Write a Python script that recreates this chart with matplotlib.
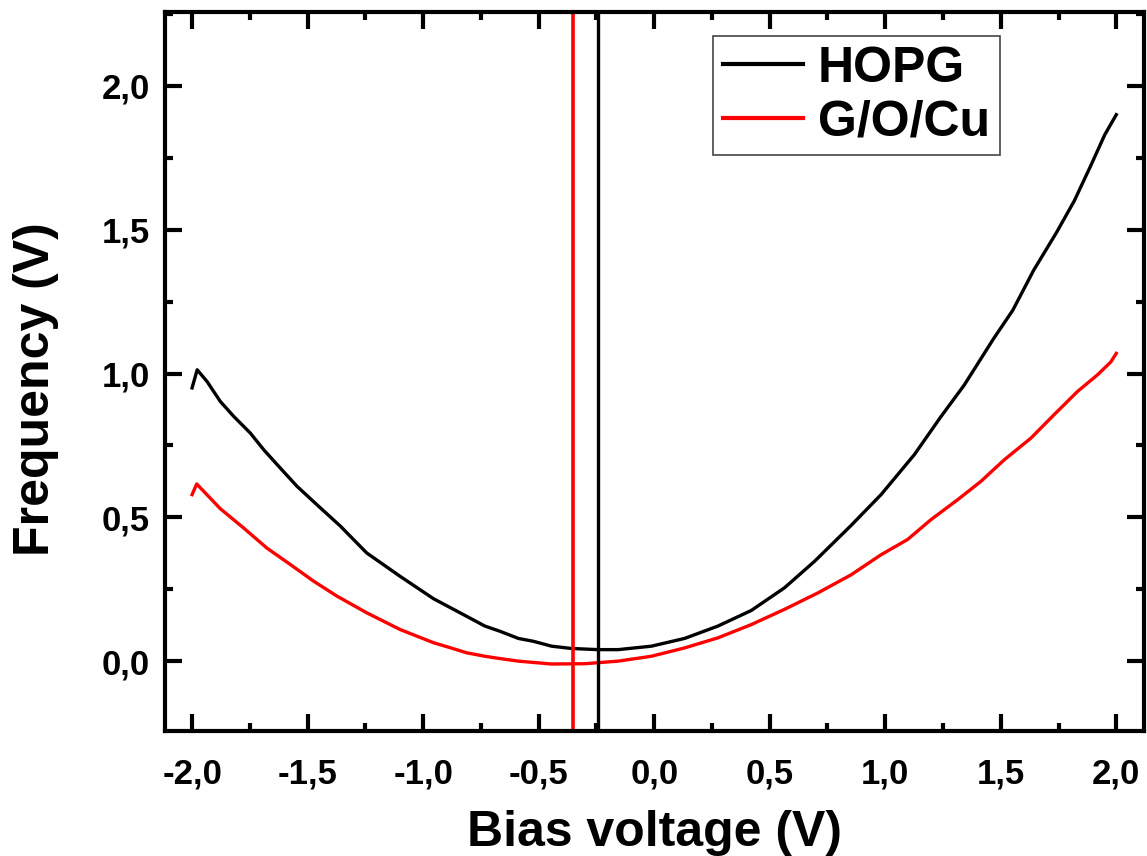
import matplotlib.pyplot as plt
from matplotlib.ticker import MultipleLocator, FuncFormatter

plt.rcParams['font.family'] = ['Liberation Sans', 'DejaVu Sans']
plt.rcParams['font.weight'] = 'bold'

# HOPG curve
hopg_x = [-2.0, -1.978, -1.935, -1.878, -1.82, -1.748, -1.69, -1.618, -1.546, -1.46,
          -1.359, -1.244, -1.10, -0.955, -0.812, -0.733, -0.668, -0.588, -0.523, -0.444,
          -0.358, -0.243, -0.156, -0.012, 0.132, 0.276, 0.42, 0.564, 0.694, 0.85,
          0.982, 1.126, 1.241, 1.342, 1.468, 1.552, 1.643, 1.741, 1.818, 1.888, 1.95, 2.0]
hopg_y = [0.95, 1.013, 0.972, 0.903, 0.851, 0.793, 0.735, 0.671, 0.608, 0.544,
          0.47, 0.376, 0.295, 0.217, 0.156, 0.122, 0.104, 0.079, 0.069, 0.052,
          0.044, 0.04, 0.04, 0.052, 0.079, 0.122, 0.176, 0.255, 0.347, 0.47,
          0.579, 0.718, 0.85, 0.96, 1.12, 1.22, 1.36, 1.49, 1.60, 1.72, 1.83, 1.90]

# G/O/Cu curve
goc_x = [-2.0, -1.98, -1.878, -1.777, -1.676, -1.575, -1.474, -1.373, -1.244, -1.10,
         -0.955, -0.876, -0.812, -0.733, -0.668, -0.588, -0.444, -0.30, -0.156, -0.012,
         0.132, 0.276, 0.42, 0.564, 0.708, 0.852, 0.982, 1.097, 1.198, 1.313,
         1.414, 1.515, 1.63, 1.731, 1.832, 1.918, 1.976, 2.0]
goc_y = [0.579, 0.616, 0.53, 0.463, 0.393, 0.336, 0.278, 0.226, 0.168, 0.11,
         0.064, 0.045, 0.029, 0.017, 0.009, 0.0, -0.01, -0.009, 0.0, 0.017,
         0.046, 0.081, 0.127, 0.18, 0.237, 0.30, 0.37, 0.423, 0.492, 0.561,
         0.625, 0.70, 0.775, 0.857, 0.9375, 0.995, 1.04, 1.07]

# minimum positions (vertical markers)
hopg_min = -0.243
goc_min = -0.35

fig = plt.figure(figsize=(11.47, 8.56), dpi=100)
ax = fig.add_axes([0.1439, 0.146, 0.8535, 0.840])

ax.plot(hopg_x, hopg_y, color='black', lw=2.4, label='HOPG')
ax.plot(goc_x, goc_y, color='red', lw=2.4, label='G/O/Cu')
ax.axvline(hopg_min, color='black', lw=2.4)
ax.axvline(goc_min, color='red', lw=2.6)

ax.set_xlim(-2.117, 2.12)
ax.set_ylim(-0.243, 2.257)

ax.xaxis.set_major_locator(MultipleLocator(0.5))
ax.xaxis.set_minor_locator(MultipleLocator(0.25))
ax.yaxis.set_major_locator(MultipleLocator(0.5))
ax.yaxis.set_minor_locator(MultipleLocator(0.25))
fmt = FuncFormatter(lambda v, pos: f"{v:.1f}".replace('.', ',').replace('-0,0', '0,0'))
ax.xaxis.set_major_formatter(fmt)
ax.yaxis.set_major_formatter(fmt)

ax.tick_params(which='both', direction='in', top=True, right=True, width=3)
ax.tick_params(which='major', length=12, labelsize=25)
ax.tick_params(axis='x', which='major', pad=19)
ax.tick_params(axis='y', which='major', pad=11)
ax.tick_params(which='minor', length=6)
for lab in ax.get_xticklabels() + ax.get_yticklabels():
    lab.set_fontweight('bold')
for s in ax.spines.values():
    s.set_linewidth(3)

ax.set_xlabel('Bias voltage (V)', fontsize=36, fontweight='bold', labelpad=14)
ax.set_ylabel('Frequency (V)', fontsize=36, fontweight='bold')
ax.yaxis.set_label_coords(-0.108, 0.475)

leg = ax.legend(loc='upper right', bbox_to_anchor=(0.853, 0.967), borderaxespad=0,
                fontsize=36, handlelength=1.6, handletextpad=0.3, borderpad=0.2,
                labelspacing=0.15, fancybox=False, framealpha=1, edgecolor='#444444')
leg.get_frame().set_linewidth(1.2)
for line in leg.get_lines():
    line.set_linewidth(3)
for t in leg.get_texts():
    t.set_fontweight('bold')

fig.savefig('out.png', dpi=100)
